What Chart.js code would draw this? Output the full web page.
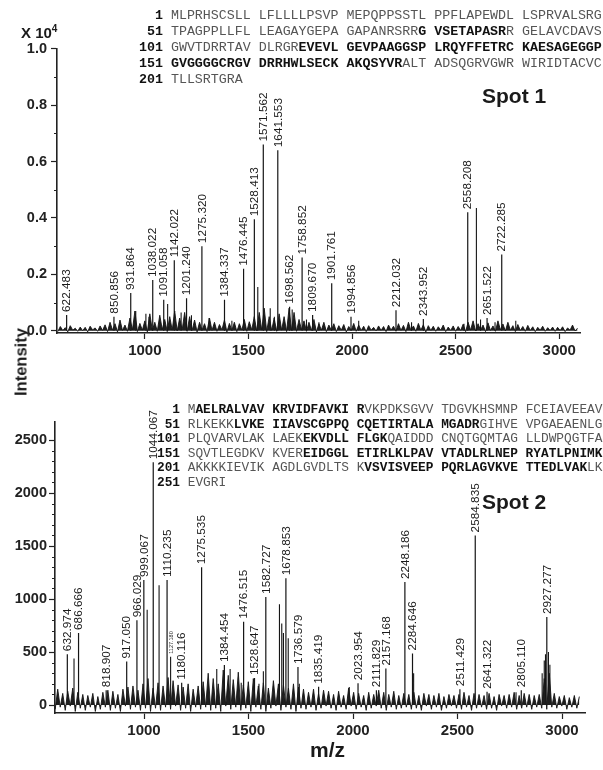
<!DOCTYPE html>
<html>
<head>
<meta charset="utf-8">
<script src="https://cdn.jsdelivr.net/npm/chart.js@4.4.1/dist/chart.umd.min.js"></script>
<style>
body{margin:0;width:603px;height:770px;overflow:hidden;background:#fff;position:relative;font-family:"Liberation Sans",Arial,sans-serif;color:#1a1a1a}
canvas{position:absolute;left:0}
#c1{top:0}
#c2{top:380px}
.seq{position:absolute;white-space:pre;font-family:"Liberation Mono","Courier New",monospace;color:#555}
.seq b{color:#111}
.txt{position:absolute;font-weight:bold;white-space:nowrap;color:#1a1a1a}
</style>
</head>
<body>
<canvas id="c1" width="603" height="380"></canvas>
<canvas id="c2" width="603" height="390"></canvas>

<div class="seq" id="seq1" style="left:139px;top:8px;font-size:13.3px;line-height:16px"><b>  1</b> MLPRHSCSLL LFLLLLPSVP MEPQPPSSTL PPFLAPEWDL LSPRVALSRG
<b> 51</b> TPAGPPLLFL LEAGAYGEPA GAPANRSRR<b>G VSETAPASR</b>R GELAVCDAVS
<b>101</b> GWVTDRRTAV DLRGR<b>EVEVL GEVPAAGGSP LRQYFFETRC KAESAGEGGP</b>
<b>151 GVGGGGCRGV DRRHWLSECK AKQSYVR</b>ALT ADSQGRVGWR WIRIDTACVC
<b>201</b> TLLSRTGRA</div>

<div class="seq" id="seq2" style="left:157px;top:403px;font-size:12.8px;line-height:14.6px"><b>  1</b> M<b>AELRALVAV KRVIDFAVKI R</b>VKPDKSGVV TDGVKHSMNP FCEIAVEEAV
<b> 51</b> RLKEKK<b>LVKE IIAVSCGPPQ CQETIRTALA MGADR</b>GIHVE VPGAEAENLG
<b>101</b> PLQVARVLAK LAEK<b>EKVDLL FLGK</b>QAIDDD CNQTGQMTAG LLDWPQGTFA
<b>151</b> SQVTLEGDKV KVER<b>EIDGGL ETIRLKLPAV VTADLRLNEP RYATLPNIMK</b>
<b>201</b> AKKKKIEVIK AGDLGVDLTS K<b>VSVISVEEP PQRLAGVKVE TTEDLVAK</b>LK
<b>251</b> EVGRI</div>

<div class="txt" style="left:21px;top:23px;font-size:15px">X 10<sup style="font-size:10px">4</sup></div>
<div class="txt" style="left:482px;top:84px;font-size:21px">Spot 1</div>
<div class="txt" style="left:482px;top:490px;font-size:21px">Spot 2</div>
<div class="txt" style="left:310px;top:738px;font-size:21px">m/z</div>
<div class="txt" style="left:21px;top:362px;font-size:16.5px;transform:translate(-50%,-50%) rotate(-90deg)">Intensity</div>

<script>
// raw counts; the top axis is shown in units of 10^4
const SCALE = 10000;

const xTicks = [1000, 1500, 2000, 2500, 3000];
const spot1YTicks = [0, 0.2, 0.4, 0.6, 0.8, 1.0];
const spot1YMinor = [0.1, 0.3, 0.5, 0.7, 0.9];
const spot2YTicks = [0, 500, 1000, 1500, 2000, 2500];
const spot2YMinor = [100, 200, 300, 400, 600, 700, 800, 900, 1100, 1200, 1300, 1400, 1600, 1700, 1800, 1900, 2100, 2200, 2300, 2400];

// Spot 1 - labelled peaks (m/z, counts)
const spot1LabelMz = [622.483, 850.856, 931.864, 1038.022, 1091.058, 1142.022, 1201.240, 1275.320, 1384.337, 1476.445, 1528.413, 1571.562, 1641.553, 1698.562, 1758.852, 1809.670, 1901.761, 1994.856, 2212.032, 2343.952, 2558.208, 2651.522, 2722.285];
const spot1LabelInt = [560, 500, 1340, 1800, 1100, 2500, 1150, 3000, 1100, 2200, 3950, 6600, 6400, 850, 2600, 560, 1680, 500, 730, 420, 4200, 450, 2700];
// Spot 1 - other visible peaks
const spot1OtherMz = [956, 1005, 1020, 1110, 1175, 1225, 1310, 1420, 1545, 1605, 1625, 1711, 1780, 1840, 2032, 2287, 2540, 2600, 2620, 2690, 2790];
const spot1OtherInt = [700, 600, 500, 950, 650, 550, 450, 350, 1550, 800, 500, 750, 400, 300, 350, 300, 250, 4350, 400, 300, 350];

// Spot 1 - baseline noise, one value every 12 m/z from 580
const noiseStep = 12;
const spot1NoiseStart = 580;
const spot1Noise = [
  -30,150,10,110,-40,180,20,90,-20,130,
  0,120,-40,160,30,100,-20,170,10,210,
  -30,300,20,250,-40,380,10,200,-20,450,
  30,700,-30,260,20,350,-40,600,10,300,
  -20,550,40,400,-30,500,20,700,-10,450,
  30,650,-20,500,10,380,-40,300,20,250,
  -30,450,10,300,-20,220,30,380,-40,260,
  10,300,-30,250,20,400,-20,320,30,500,
  -10,650,20,800,-30,500,10,450,-20,600,
  20,500,-30,800,10,650,-20,400,30,350,
  -20,300,10,400,-40,250,20,300,-30,200,
  10,250,-30,180,20,220,-40,150,10,260,
  -20,200,10,160,-30,180,20,120,-10,170,
  10,150,-30,200,20,160,-20,250,10,190,
  -30,300,10,170,-20,260,20,210,-40,180,
  10,160,-20,140,20,200,-30,130,10,170,
  -20,150,10,230,-30,300,20,350,-10,250,
  20,200,-30,280,10,170,-20,350,30,240,
  -10,300,20,180,-30,220,10,150,-20,190,
  10,140,-30,120,20,160,-20,110,10,130,
  -20,120,10,140,-30,100,20,200,-10,90
];

// Spot 2 - labelled peaks
const spot2LabelMz = [632.974, 686.666, 818.907, 917.050, 966.029, 999.067, 1044.067, 1110.235, 1180.116, 1275.535, 1384.454, 1476.515, 1528.647, 1582.727, 1678.853, 1736.579, 1835.419, 2023.954, 2111.829, 2157.168, 2248.186, 2284.646, 2511.429, 2584.835, 2641.322, 2805.110, 2927.277];
const spot2LabelInt = [480, 680, 140, 410, 800, 1180, 2290, 1180, 210, 1300, 377, 785, 255, 1020, 1195, 360, 172, 205, 140, 345, 1160, 487, 150, 1600, 125, 140, 830];
const spot2SmallMz = [1127.180];
const spot2SmallInt = [455];
const spot2OtherMz = [665, 1015, 1072, 1348, 1412, 1465, 1550, 1571, 1648, 1659, 1667, 1690, 1743, 1982, 2290, 2780, 2905, 2915, 2921, 2935, 2942];
const spot2OtherInt = [440, 900, 1130, 340, 340, 210, 200, 320, 950, 770, 680, 630, 200, 170, 300, 120, 300, 420, 480, 500, 380];

const spot2NoiseStart = 575;
const spot2Noise = [
  -40,150,-20,110,-50,130,-10,160,-60,120,
  -30,100,-50,90,-20,110,-60,80,-40,120,
  -20,140,-50,130,-30,100,-60,150,-10,170,
  -40,180,-20,140,-50,200,-30,250,-60,160,
  -30,210,-50,180,-20,260,-40,230,-10,190,
  -50,170,-30,200,-60,150,-20,180,-40,220,
  -20,300,-50,250,-30,200,-60,330,-10,280,
  -40,240,-20,310,-50,190,-30,220,-60,250,
  -20,180,-40,210,-60,160,-30,230,-10,200,
  -50,190,-20,160,-40,200,-60,170,-30,150,
  -40,120,-20,150,-50,110,-30,140,-10,130,
  -30,100,-50,130,-20,90,-40,160,-10,120,
  -40,110,-20,90,-50,120,-30,100,-10,140,
  -30,120,-50,100,-20,130,-40,90,-30,110,
  -20,100,-40,120,-30,90,-50,110,-10,100,
  -40,90,-20,110,-50,80,-30,100,-10,90,
  -30,100,-40,120,-20,90,-50,110,-30,100,
  -20,90,-40,110,-30,80,-50,100,-10,90,
  -30,100,-20,120,-40,90,-30,110,-20,100,
  -40,90,-20,100,-30,250,-40,300,-20,110,
  -30,80,-10,90,-40,70,-20,90,-30,80
];

Chart.defaults.font.family = '"Liberation Sans", Arial, sans-serif';

function noisePoints(start, vals, div) {
  return vals.map((v, i) => ({x: start + i * noiseStep, y: v / div}));
}
function sticks(mz, ints, div) {
  const pts = [];
  mz.forEach((m, i) => {
    pts.push({x: m, y: 0}, {x: m, y: ints[i] / div}, {x: m, y: 0}, {x: m, y: null});
  });
  return pts;
}

const minorTicks = {
  id: 'minorTicks',
  afterDraw(chart, args, opts) {
    const y = chart.scales.y, ctx = chart.ctx;
    ctx.save();
    ctx.strokeStyle = '#222';
    ctx.lineWidth = 1;
    opts.values.forEach(v => {
      const py = Math.round(y.getPixelForValue(v)) + 0.5;
      ctx.beginPath();
      ctx.moveTo(chart.chartArea.left - 3, py);
      ctx.lineTo(chart.chartArea.left, py);
      ctx.stroke();
    });
    ctx.restore();
  }
};

const peakLabels = {
  id: 'peakLabels',
  afterDatasetsDraw(chart, args, opts) {
    const ctx = chart.ctx, x = chart.scales.x, y = chart.scales.y;
    ctx.save();
    ctx.fillStyle = '#1a1a1a';
    opts.groups.forEach(g => {
      ctx.font = g.size + 'px "Liberation Sans", Arial, sans-serif';
      g.mz.forEach((m, i) => {
        const px = x.getPixelForValue(m);
        const py = y.getPixelForValue(g.ints[i] / opts.div);
        ctx.save();
        ctx.translate(px, py - 1);
        ctx.rotate(-Math.PI / 2);
        ctx.textAlign = 'left';
        ctx.textBaseline = 'middle';
        ctx.fillText(m.toFixed(3), 2, 0.5);
        ctx.restore();
      });
    });
    ctx.restore();
  }
};

function axisX(min, max, h) {
  return {
    type: 'linear', min: min, max: max,
    afterBuildTicks: s => { s.ticks = xTicks.map(v => ({value: v})); },
    afterFit: s => { s.height = h; },
    grid: {drawOnChartArea: false, tickLength: 6, color: '#222', tickWidth: 1.2},
    border: {color: '#222', width: 1.6},
    ticks: {font: {size: 15, weight: 'bold'}, color: '#222', padding: 3, maxRotation: 0, callback: v => String(v)}
  };
}
function axisY(min, max, w, tickVals, fmt, pad) {
  return {
    min: min, max: max,
    afterBuildTicks: s => { s.ticks = tickVals.map(v => ({value: v})); },
    afterFit: s => { s.width = w; },
    grid: {drawOnChartArea: false, tickLength: 6, color: '#222', tickWidth: 1.2},
    border: {color: '#222', width: 1.6},
    ticks: {font: {size: 14.5, weight: 'bold'}, color: '#222', padding: pad, callback: fmt}
  };
}

function lineSet(data, w) {
  return {data: data, borderColor: '#151515', borderWidth: w, pointRadius: 0, tension: 0, spanGaps: false};
}
function noiseSet(data) {
  return {data: data, borderColor: '#151515', backgroundColor: '#1e1e1e', fill: 'origin', borderWidth: 0.9, pointRadius: 0, tension: 0};
}

new Chart(document.getElementById('c1'), {
  type: 'line',
  data: {
    datasets: [
      noiseSet(noisePoints(spot1NoiseStart, spot1Noise, SCALE)),
      lineSet(sticks(spot1OtherMz, spot1OtherInt, SCALE), 1.1),
      lineSet(sticks(spot1LabelMz, spot1LabelInt, SCALE), 1.2)
    ]
  },
  options: {
    responsive: false, animation: false,
    layout: {padding: {top: 48.7, right: 23, left: 0, bottom: 0}},
    scales: {
      x: axisX(576, 3100, 47),
      y: axisY(-0.008, 1.0, 57, spot1YTicks, v => v.toFixed(1), 4)
    },
    plugins: {
      legend: {display: false}, tooltip: {enabled: false},
      minorTicks: {values: spot1YMinor},
      peakLabels: {div: SCALE, groups: [{mz: spot1LabelMz, ints: spot1LabelInt, size: 11.8}]}
    }
  },
  plugins: [minorTicks, peakLabels]
});

new Chart(document.getElementById('c2'), {
  type: 'line',
  data: {
    datasets: [
      noiseSet(noisePoints(spot2NoiseStart, spot2Noise, 1)),
      lineSet(sticks(spot2OtherMz, spot2OtherInt, 1), 1.1),
      lineSet(sticks(spot2SmallMz, spot2SmallInt, 1), 1.1),
      lineSet(sticks(spot2LabelMz, spot2LabelInt, 1), 1.2)
    ]
  },
  options: {
    responsive: false, animation: false,
    layout: {padding: {top: 42, right: 18, left: 0, bottom: 0}},
    scales: {
      x: axisX(574, 3110, 57),
      y: axisY(-75, 2670, 55, spot2YTicks, v => String(v), 2)
    },
    plugins: {
      legend: {display: false}, tooltip: {enabled: false},
      minorTicks: {values: spot2YMinor},
      peakLabels: {div: 1, groups: [
        {mz: spot2LabelMz, ints: spot2LabelInt, size: 11.8},
        {mz: spot2SmallMz, ints: spot2SmallInt, size: 5.5}
      ]}
    }
  },
  plugins: [minorTicks, peakLabels]
});
</script>
</body>
</html>
